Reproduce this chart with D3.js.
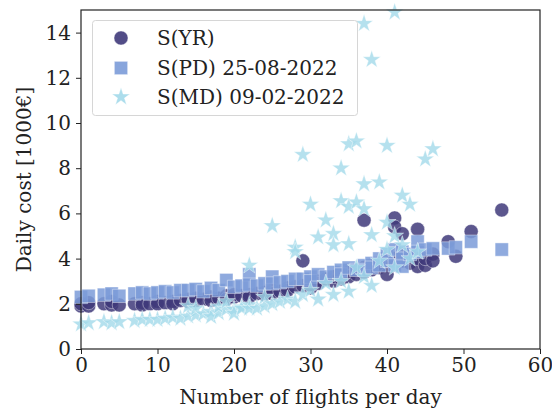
<!DOCTYPE html>
<html><head><meta charset="utf-8">
<script src="https://cdn.jsdelivr.net/npm/d3@7"></script>
<style>body{margin:0;background:#fff}svg{display:block}text{font-family:"DejaVu Serif",serif;fill:#222}</style>
</head><body><svg id="c" width="552" height="415"></svg>
<script>
const seriesNames = ["S(YR)", "S(PD) 25-08-2022", "S(MD) 09-02-2022"];
const xTicks = [0,10,20,30,40,50,60];
const yTicks = [0,2,4,6,8,10,12,14];

const yrX = [0,0,1,1,3,4,4,5,7,8,8,9,10,10,11,12,12,13,14,14,15,15,16,17,17,18,19,19,20,20,21,22,22,23,24,24,25,25,26,27,27,28,29,29,30,30,31,31,32,33,33,34,34,35,35,36,36,37,37,37,38,38,39,39,40,40,41,41,41,42,42,42,43,43,44,44,44,45,45,46,46,48,49,51,55];
const yrY = [1.9,2.0,1.9,2.05,2.0,1.95,2.1,1.95,2.0,2.05,1.95,2.0,2.1,2.0,2.05,2.1,2.0,2.15,2.1,2.2,2.15,2.25,2.2,2.3,2.15,2.25,2.35,2.2,2.3,2.4,2.35,2.4,2.3,2.45,2.5,2.4,2.6,2.45,2.55,2.7,2.6,2.75,3.9,2.8,2.85,2.7,3.0,2.9,3.1,3.0,3.2,3.3,3.1,3.4,3.2,3.5,3.3,5.7,3.6,3.4,3.7,3.5,3.8,3.6,3.3,3.9,5.8,5.4,4.0,5.1,3.9,4.2,4.1,3.8,5.3,3.65,4.0,3.7,4.0,4.2,3.9,4.75,4.1,5.2,6.15];

const pdX = [0,1,3,4,5,7,8,9,10,11,12,13,14,15,16,17,18,19,20,21,22,22,23,24,25,25,26,27,28,29,30,30,31,32,33,34,34,35,36,37,37,38,38,39,39,40,40,41,41,42,42,42,43,44,44,45,46,48,49,51,55];
const pdY = [2.3,2.35,2.4,2.45,2.35,2.45,2.5,2.45,2.5,2.55,2.5,2.6,2.6,2.65,2.55,2.7,2.6,3.05,2.75,2.8,3.3,2.85,2.8,2.9,3.2,2.9,2.95,3.0,3.1,3.1,3.2,3.0,3.3,3.2,3.4,3.5,3.3,3.6,3.5,3.7,3.5,3.8,3.6,4.0,3.7,4.2,3.9,4.4,3.7,4.3,4.0,3.65,4.2,4.75,4.3,4.4,4.45,4.45,4.5,4.75,4.4];

const mdX = [0,1,3,4,5,7,8,9,10,11,12,13,14,14,15,15,16,17,17,18,18,19,19,20,20,21,21,22,22,22,23,24,24,25,25,26,27,28,28,28,29,29,30,30,31,31,32,32,33,33,33,34,34,34,35,35,35,35,36,36,36,37,37,37,37,38,38,38,39,39,40,40,40,41,41,41,42,42,43,43,44,45,46];
const mdY = [1.1,1.15,1.2,1.15,1.2,1.25,1.3,1.3,1.3,1.35,1.4,1.35,1.45,1.9,1.5,1.8,1.55,1.65,1.43,1.6,1.87,1.75,2.1,1.75,1.58,1.85,1.8,1.95,3.7,1.8,1.8,1.9,2.3,2.0,5.45,2.1,2.2,2.1,4.5,4.3,8.6,2.4,6.4,2.6,4.95,2.2,5.7,2.9,5.1,4.6,2.4,8.0,6.55,3.0,9.07,6.3,4.65,2.55,9.2,6.5,3.6,14.4,7.3,6.2,3.2,12.8,5.05,2.8,7.38,3.9,9.0,5.6,4.4,14.9,5.0,3.6,6.8,4.6,6.4,4.0,4.3,8.4,8.85];

const colors = ["#3f3a7a", "#7b9bd8", "#a3d9ea"];

const svg = d3.select("#c");
const L = 81, R = 540, T = 10, B = 349;
const FS = "20px";
const x = d3.scaleLinear().domain([0,60]).range([L,R]);
const y = d3.scaleLinear().domain([0,15]).range([B,T]);

const sym = [d3.symbol().type(d3.symbolCircle).size(155),
             d3.symbol().type(d3.symbolSquare).size(176),
             d3.symbol().type(d3.symbolStar).size(100)];

const sets = [[yrX,yrY],[pdX,pdY],[mdX,mdY]];
const plot = svg.append("g");
sets.forEach(([xs,ys],i)=>{
  plot.append("g").selectAll("path").data(xs.map((v,k)=>[v,ys[k]])).join("path")
    .attr("d", sym[i]())
    .attr("transform", d=>`translate(${x(d[0])},${y(d[1])})`)
    .attr("fill", colors[i]).attr("fill-opacity", i===2?0.8:0.85)
    .attr("stroke", "#fff").attr("stroke-opacity", 0.5).attr("stroke-width", 0.8);
});

// axes
const xa = svg.append("g").attr("transform",`translate(0,${B})`)
  .call(d3.axisBottom(x).tickValues(xTicks).tickSize(5).tickPadding(4).tickFormat(d3.format("d")));
const ya = svg.append("g").attr("transform",`translate(${L},0)`)
  .call(d3.axisLeft(y).tickValues(yTicks).tickSize(5).tickPadding(5).tickFormat(d3.format("d")));
[xa,ya].forEach(a=>{
  a.select(".domain").remove();
  a.selectAll("text").style("font-size",FS).style("font-family","DejaVu Serif").attr("fill","#222");
  a.selectAll("line").attr("stroke","#222").attr("stroke-width",1);
});
svg.append("rect").attr("x",L).attr("y",T).attr("width",R-L).attr("height",B-T)
  .attr("fill","none").attr("stroke","#222").attr("stroke-width",1.2);

svg.append("text").attr("x",(L+R)/2).attr("y",404).attr("text-anchor","middle")
  .style("font-size",FS).text("Number of flights per day");
svg.append("text").attr("transform",`translate(31,${(T+B)/2}) rotate(-90)`).attr("text-anchor","middle")
  .style("font-size",FS).text("Daily cost [1000€]");

// legend
const lg = svg.append("g");
lg.append("rect").attr("x",92.5).attr("y",20.5).attr("width",265).attr("height",95).attr("rx",3)
  .attr("fill","#fff").attr("fill-opacity",0.8).attr("stroke","#d6d6d6").attr("stroke-width",1);
const rows = [38,68,97];
seriesNames.forEach((n,i)=>{
  lg.append("path").attr("d", sym[i]()).attr("transform",`translate(121,${rows[i]})`)
    .attr("fill",colors[i]).attr("fill-opacity",0.9).attr("stroke","#fff").attr("stroke-opacity",0.5).attr("stroke-width",0.8);
  lg.append("text").attr("x",157).attr("y",rows[i]).attr("dy","0.35em").style("font-size",FS).text(n);
});
</script></body></html>
